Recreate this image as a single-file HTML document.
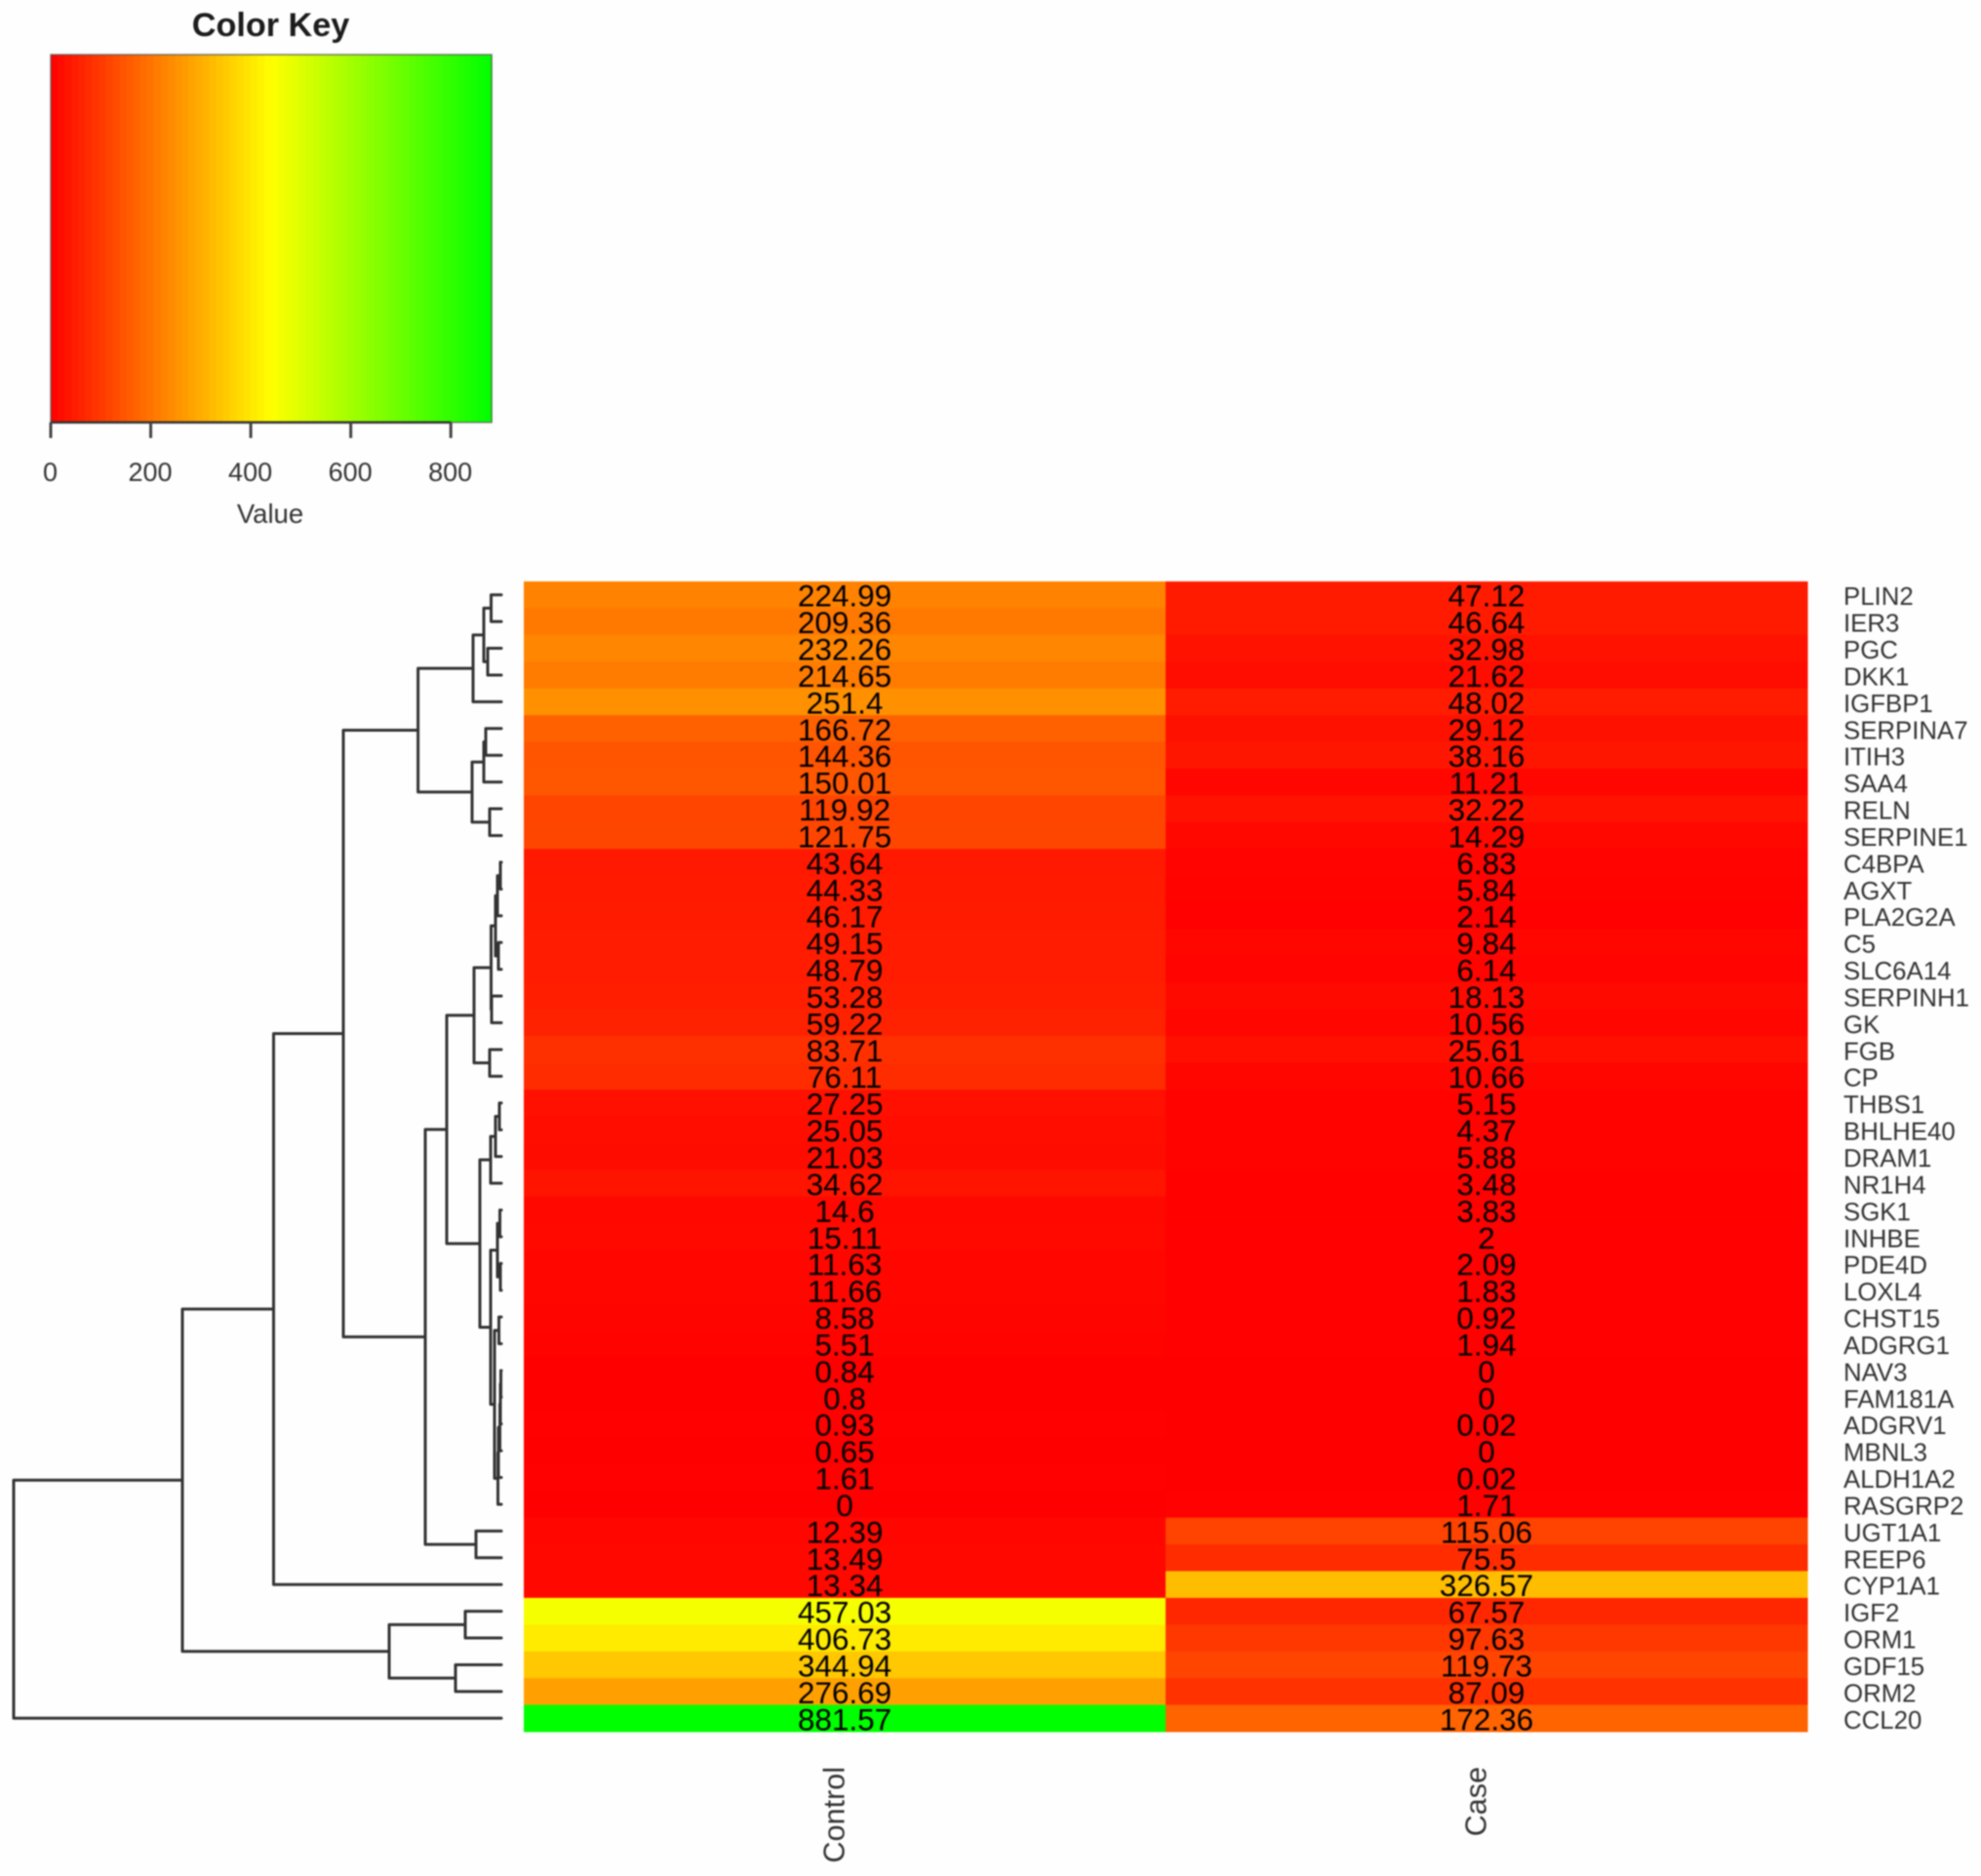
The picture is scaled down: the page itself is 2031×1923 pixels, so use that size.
<!DOCTYPE html>
<html lang="en">
<head>
<meta charset="utf-8">
<title>Gene expression heatmap</title>
<style>
  html, body { margin: 0; padding: 0; background: #fefefe; }
  #chart { display: block; width: 2031px; height: 1923px; }
  #chart text { font-family: "Liberation Sans", Arial, sans-serif; }
  .soft { filter: blur(0.9px); }
</style>
</head>
<body>
<svg id="chart" xmlns="http://www.w3.org/2000/svg" width="2031" height="1923" viewBox="0 0 2031 1923">
  <rect x="0" y="0" width="2031" height="1923" fill="#fefefe"/>
  <g id="root" class="soft"></g>
</svg>
<script>
const geneLabels = ["PLIN2","IER3","PGC","DKK1","IGFBP1","SERPINA7","ITIH3","SAA4","RELN","SERPINE1","C4BPA","AGXT","PLA2G2A","C5","SLC6A14","SERPINH1","GK","FGB","CP","THBS1","BHLHE40","DRAM1","NR1H4","SGK1","INHBE","PDE4D","LOXL4","CHST15","ADGRG1","NAV3","FAM181A","ADGRV1","MBNL3","ALDH1A2","RASGRP2","UGT1A1","REEP6","CYP1A1","IGF2","ORM1","GDF15","ORM2","CCL20"];
const controlValues = [224.99,209.36,232.26,214.65,251.4,166.72,144.36,150.01,119.92,121.75,43.64,44.33,46.17,49.15,48.79,53.28,59.22,83.71,76.11,27.25,25.05,21.03,34.62,14.6,15.11,11.63,11.66,8.58,5.51,0.84,0.8,0.93,0.65,1.61,0,12.39,13.49,13.34,457.03,406.73,344.94,276.69,881.57];
const caseValues = [47.12,46.64,32.98,21.62,48.02,29.12,38.16,11.21,32.22,14.29,6.83,5.84,2.14,9.84,6.14,18.13,10.56,25.61,10.66,5.15,4.37,5.88,3.48,3.83,2,2.09,1.83,0.92,1.94,0,0,0.02,0,0.02,1.71,115.06,75.5,326.57,67.57,97.63,119.73,87.09,172.36];
const columnLabels = ["Control","Case"];
const keyTicks = [0,200,400,600,800];
const keyBinCount = 64;
/* Dendrogram merges as [height, left, right]; a bare number is a row index. */
const dendrogramTree = [500,
  [327,
    [233.5,
      [162,
        [85.4,
          [29, [18, [10.5,0,1], [14,2,3]], 4],
          [30, [18, [16,5,6], 7], [12,8,9]]
        ],
        [78,
          [56,
            [28,
              [10.5,
                [6, [4, [1,10,11], 12], [3,13,14]],
                [10,15,16]
              ],
              [12,17,18]
            ],
            [22,
              [11, [6, [2,19,20], 21], 22],
              [11,
                [4, [1.5,23,24], [1,25,26]],
                [7, [2.5,27,28],
                  [3.5, [3, [1.5, [1, [0.5,29,30], 31], 32], 33], 34]
                ]
              ]
            ]
          ],
          [26,35,36]
        ]
      ],
      37
    ],
    [115, [37,38,39], [47,40,41]]
  ],
  42
];

const SVG_NS = "http://www.w3.org/2000/svg";
const root = document.getElementById("root");
const heat = { left: 537, right: 1853, top: 596, bottom: 1775 };
const key = { left: 52, right: 504, top: 56, bottom: 433 };
const dendro = { leafX: 514, rootX: 14 };
const valueMax = Math.max(...controlValues, ...caseValues);
const rowHeight = (heat.bottom - heat.top) / geneLabels.length;
const colWidth = (heat.right - heat.left) / columnLabels.length;

function rowY(i) { return heat.top + rowHeight * (i + 0.5); }
function colX(j) { return heat.left + colWidth * (j + 0.5); }
function keyX(v) { return key.left + (key.right - key.left) * v / valueMax; }
function treeX(h) { return dendro.leafX - (dendro.leafX - dendro.rootX) * h / dendrogramTree[0]; }
function colorFor(v) {
  const t = Math.min(1, Math.max(0, v / valueMax));
  const r = t <= 0.5 ? 255 : Math.round(255 * (1 - t) * 2);
  const g = t <= 0.5 ? Math.round(255 * t * 2) : 255;
  return "rgb(" + r + "," + g + ",0)";
}
function mk(tag, attrs, parent, txt) {
  const el = document.createElementNS(SVG_NS, tag);
  for (const k in attrs) el.setAttribute(k, attrs[k]);
  if (txt !== undefined) el.textContent = txt;
  parent.appendChild(el);
  return el;
}

/* Color key */
const keyGroup = mk("g", {}, root);


const keyTitle = mk("text", { x: 277.5, y: 37, "text-anchor": "middle", "font-size": 34.2, "font-weight": "bold", fill: "#1c1c1c" }, keyGroup, "Color Key");


for (let b = 0; b < keyBinCount; b++) {
  const v0 = valueMax * b / keyBinCount;
  const v1 = valueMax * (b + 1) / keyBinCount;
  const bin = mk("rect", { x: keyX(v0), y: key.top, width: keyX(v1) - keyX(v0) + 0.6, height: key.bottom - key.top, fill: colorFor((v0 + v1) / 2) }, keyGroup);
  
  
}
const keyFrame = mk("rect", { x: key.left, y: key.top, width: key.right - key.left, height: key.bottom - key.top, fill: "none", stroke: "#555", "stroke-width": 1.5, "stroke-opacity": 0.75 }, keyGroup);


const keyAxis = mk("line", { x1: keyX(keyTicks[0]), x2: keyX(keyTicks[keyTicks.length - 1]), y1: key.bottom, y2: key.bottom, stroke: "#333", "stroke-width": 2.4 }, keyGroup);


keyTicks.forEach(function (t) {
  const tick = mk("line", { x1: keyX(t), x2: keyX(t), y1: key.bottom, y2: key.bottom + 16, stroke: "#444", "stroke-width": 3 }, keyGroup);
  
  
  const lab = mk("text", { x: keyX(t) - 0.5, y: 493, "text-anchor": "middle", "font-size": 27, fill: "#333" }, keyGroup, String(t));
  
  
});
const keyAxisTitle = mk("text", { x: 277, y: 536, "text-anchor": "middle", "font-size": 27.5, fill: "#333" }, keyGroup, "Value");



/* Heatmap cells */
const heatGroup = mk("g", {}, root);


[controlValues, caseValues].forEach(function (series, j) {
  series.forEach(function (v, i) {
    const cell = mk("rect", { x: heat.left + colWidth * j, y: heat.top + rowHeight * i, width: colWidth + 0.5, height: rowHeight + 0.5, fill: colorFor(v) }, heatGroup);
    
    
  });
});
[controlValues, caseValues].forEach(function (series, j) {
  series.forEach(function (v, i) {
    const val = mk("text", { x: colX(j), y: rowY(i) + 12, "text-anchor": "middle", "font-size": 31.5, fill: "#000" }, heatGroup, String(v));
    
    
  });
});

/* Row labels */
geneLabels.forEach(function (name, i) {
  const lab = mk("text", { x: 1890, y: rowY(i) + 10.5, "font-size": 25.8, fill: "#333" }, root, name);
  
  
});

/* Column labels */
columnLabels.forEach(function (name, j) {
  const bx = colX(j) - 0.5;
  const lab = mk("text", { transform: "translate(" + bx + ",1811) rotate(-90)", "text-anchor": "end", "font-size": 30.6, fill: "#333" }, root, name);
  
  
});

/* Dendrogram */
const treeGroup = mk("g", { fill: "none", stroke: "#333", "stroke-width": 3, "stroke-linejoin": "round", "stroke-linecap": "round" }, root);


function drawNode(node) {
  if (typeof node === "number") return { y: rowY(node), h: 0 };
  const a = drawNode(node[1]);
  const b = drawNode(node[2]);
  const x = treeX(node[0]);
  const d = "M" + treeX(a.h) + " " + a.y + "H" + x + "V" + b.y + "H" + treeX(b.h);
  const branch = mk("path", { d: d }, treeGroup);
  
  
  return { y: (a.y + b.y) / 2, h: node[0] };
}
drawNode(dendrogramTree);
</script>
</body>
</html>
